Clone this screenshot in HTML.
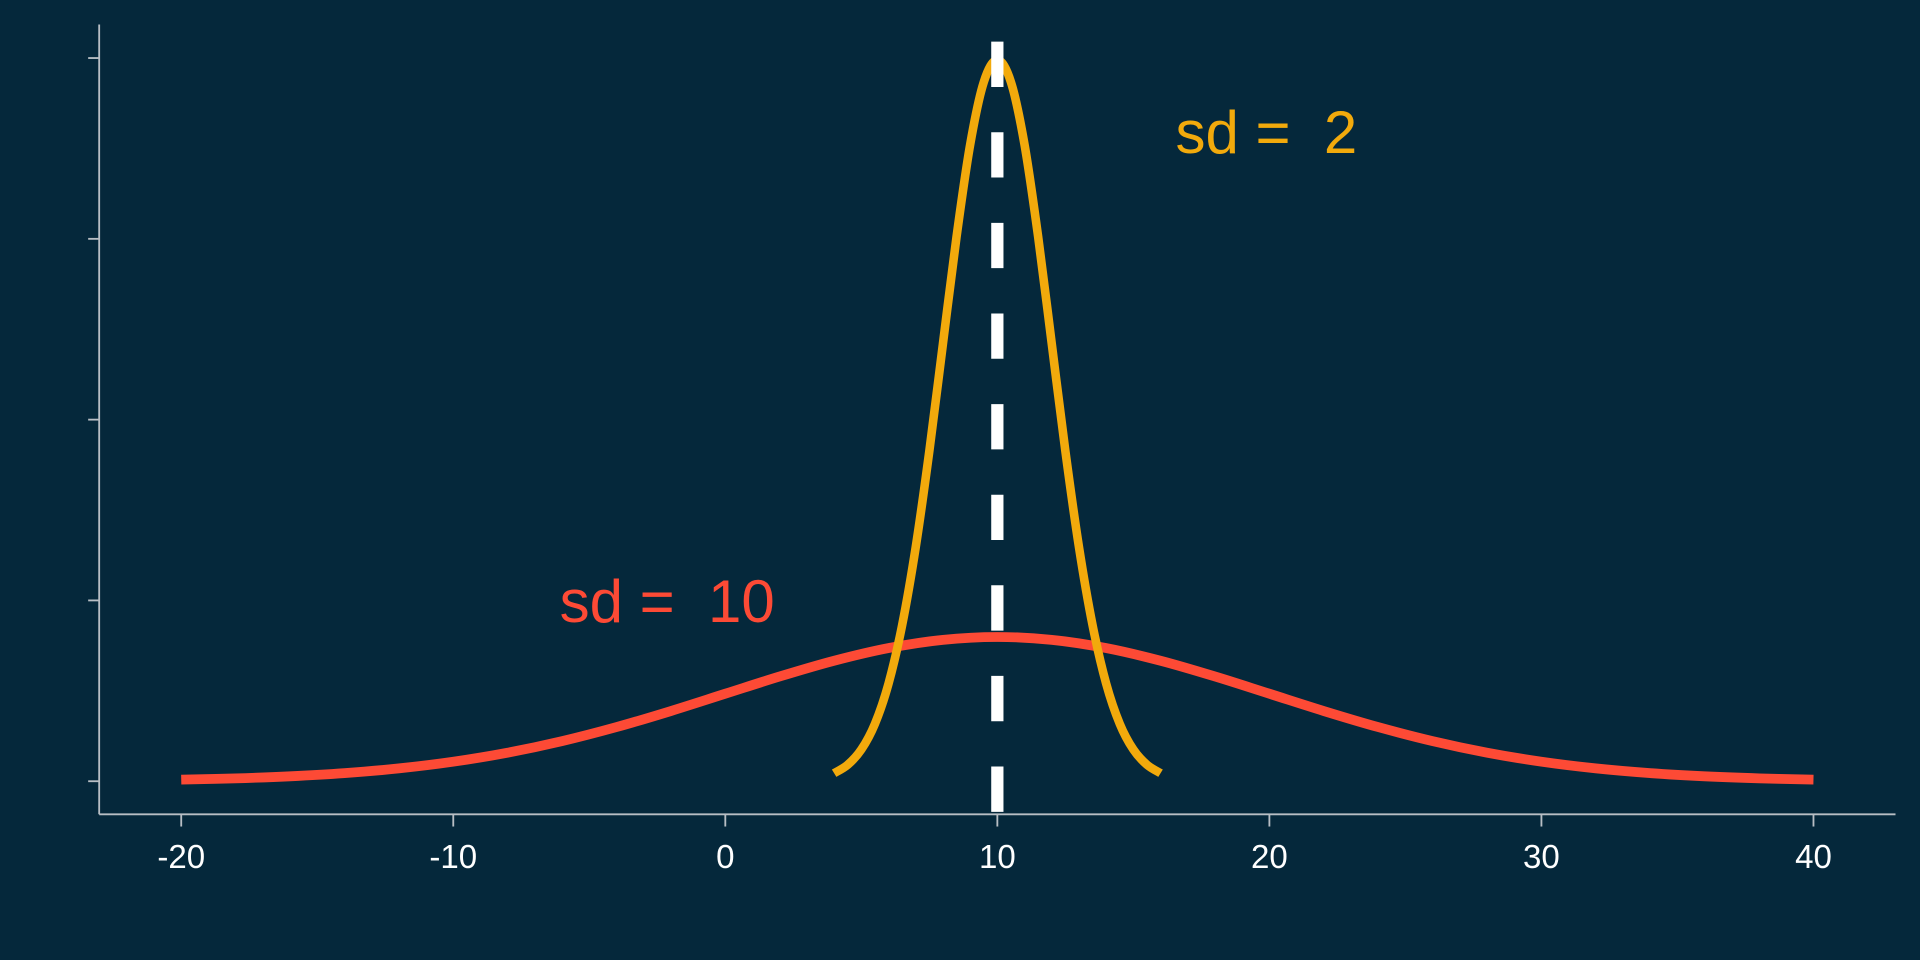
<!DOCTYPE html>
<html><head><meta charset="utf-8"><style>
html,body{margin:0;padding:0;background:#05283b;}
svg{display:block;}
text{font-family:"Liberation Sans",Arial,sans-serif;}
</style></head><body>
<svg id="chart" width="1920" height="960" viewBox="0 0 1568 784" xmlns="http://www.w3.org/2000/svg">
<rect width="1568" height="784" fill="#05283b"/>
<g id="axes"></g>
<g id="marks"></g>
</svg>
<script>
const xTicks = [-20, -10, 0, 10, 20, 30, 40];
const yTicks = [0, 0.05, 0.1, 0.15, 0.2];
const meanValue = 10;
const sd10X = [-20,-18,-16,-14,-12,-10,-8,-6,-4,-2,0,2,4,6,8,10,12,14,16,18,20,22,24,26,28,30,32,34,36,38,40];
const sd10Y = [0.000443,0.000792,0.001358,0.002239,0.003547,0.005399,0.007895,0.011092,0.014973,0.019419,0.024197,0.028969,0.033322,0.036827,0.039104,0.039894,0.039104,0.036827,0.033322,0.028969,0.024197,0.019419,0.014973,0.011092,0.007895,0.005399,0.003547,0.002239,0.001358,0.000792,0.000443];
const sd2X = [4,4.5,5,5.5,6,6.5,7,7.5,8,8.5,9,9.5,10,10.5,11,11.5,12,12.5,13,13.5,14,14.5,15,15.5,16];
const sd2Y = [0.00222,0.00455,0.00876,0.01587,0.02700,0.04315,0.06476,0.09132,0.12099,0.15057,0.17603,0.19333,0.19947,0.19333,0.17603,0.15057,0.12099,0.09132,0.06476,0.04315,0.02700,0.01587,0.00876,0.00455,0.00222];

const NS='http://www.w3.org/2000/svg';
const xs = v => 148 + (v + 20) * (1481 - 148) / 60;
const ys = v => 638 - v * (638 - 47.4) / 0.2;
function mk(tag, attrs, parent){const e=document.createElementNS(NS,tag);for(const k in attrs)e.setAttribute(k,attrs[k]);parent.appendChild(e);return e;}
const axes=document.getElementById('axes'), marks=document.getElementById('marks');

let e=mk('line',{x1:81,y1:20,x2:81,y2:665,stroke:'#b8bec4','stroke-width':1.5},axes);


e=mk('line',{x1:81,y1:665,x2:1548,y2:665,stroke:'#b8bec4','stroke-width':1.5},axes);


yTicks.forEach(t=>{
  const el=mk('line',{x1:72,x2:81,y1:ys(t),y2:ys(t),stroke:'#b8bec4','stroke-width':1.5},axes);
  
  
});
xTicks.forEach(t=>{
  const el=mk('line',{x1:xs(t),x2:xs(t),y1:665,y2:675,stroke:'#b8bec4','stroke-width':1.5},axes);
  
  
  const tx=mk('text',{x:xs(t),y:709,'text-anchor':'middle','font-size':27,fill:'#ffffff'},axes);
  tx.textContent=String(t);
  
  
});

function smoothPath(X,Y){
  const p=X.map((x,i)=>[xs(x),ys(Y[i])]);
  let d='M'+p[0][0]+','+p[0][1];
  for(let i=0;i<p.length-1;i++){
    const p0=p[Math.max(0,i-1)],p1=p[i],p2=p[i+1],p3=p[Math.min(p.length-1,i+2)];
    const c1=[p1[0]+(p2[0]-p0[0])/6,p1[1]+(p2[1]-p0[1])/6];
    const c2=[p2[0]-(p3[0]-p1[0])/6,p2[1]-(p3[1]-p1[1])/6];
    d+=' C'+c1+' '+c2+' '+p2;
  }
  return d;
}
e=mk('path',{d:smoothPath(sd10X,sd10Y),fill:'none',stroke:'#fd4a35','stroke-width':8},marks);


e=mk('path',{d:smoothPath(sd2X,sd2Y),fill:'none',stroke:'#f2aa0c','stroke-width':7},marks);


e=mk('line',{x1:xs(meanValue),x2:xs(meanValue),y1:34,y2:665,stroke:'#ffffff','stroke-width':10,'stroke-dasharray':'37 37'},marks);


e=mk('text',{x:960,y:125,'font-size':49,fill:'#f2aa0c'},marks);
e.textContent='sd =  2';
e.style.whiteSpace='pre';


e=mk('text',{x:457,y:508,'font-size':49,fill:'#fd4a35'},marks);
e.textContent='sd =  10';
e.style.whiteSpace='pre';


</script>
</body></html>
